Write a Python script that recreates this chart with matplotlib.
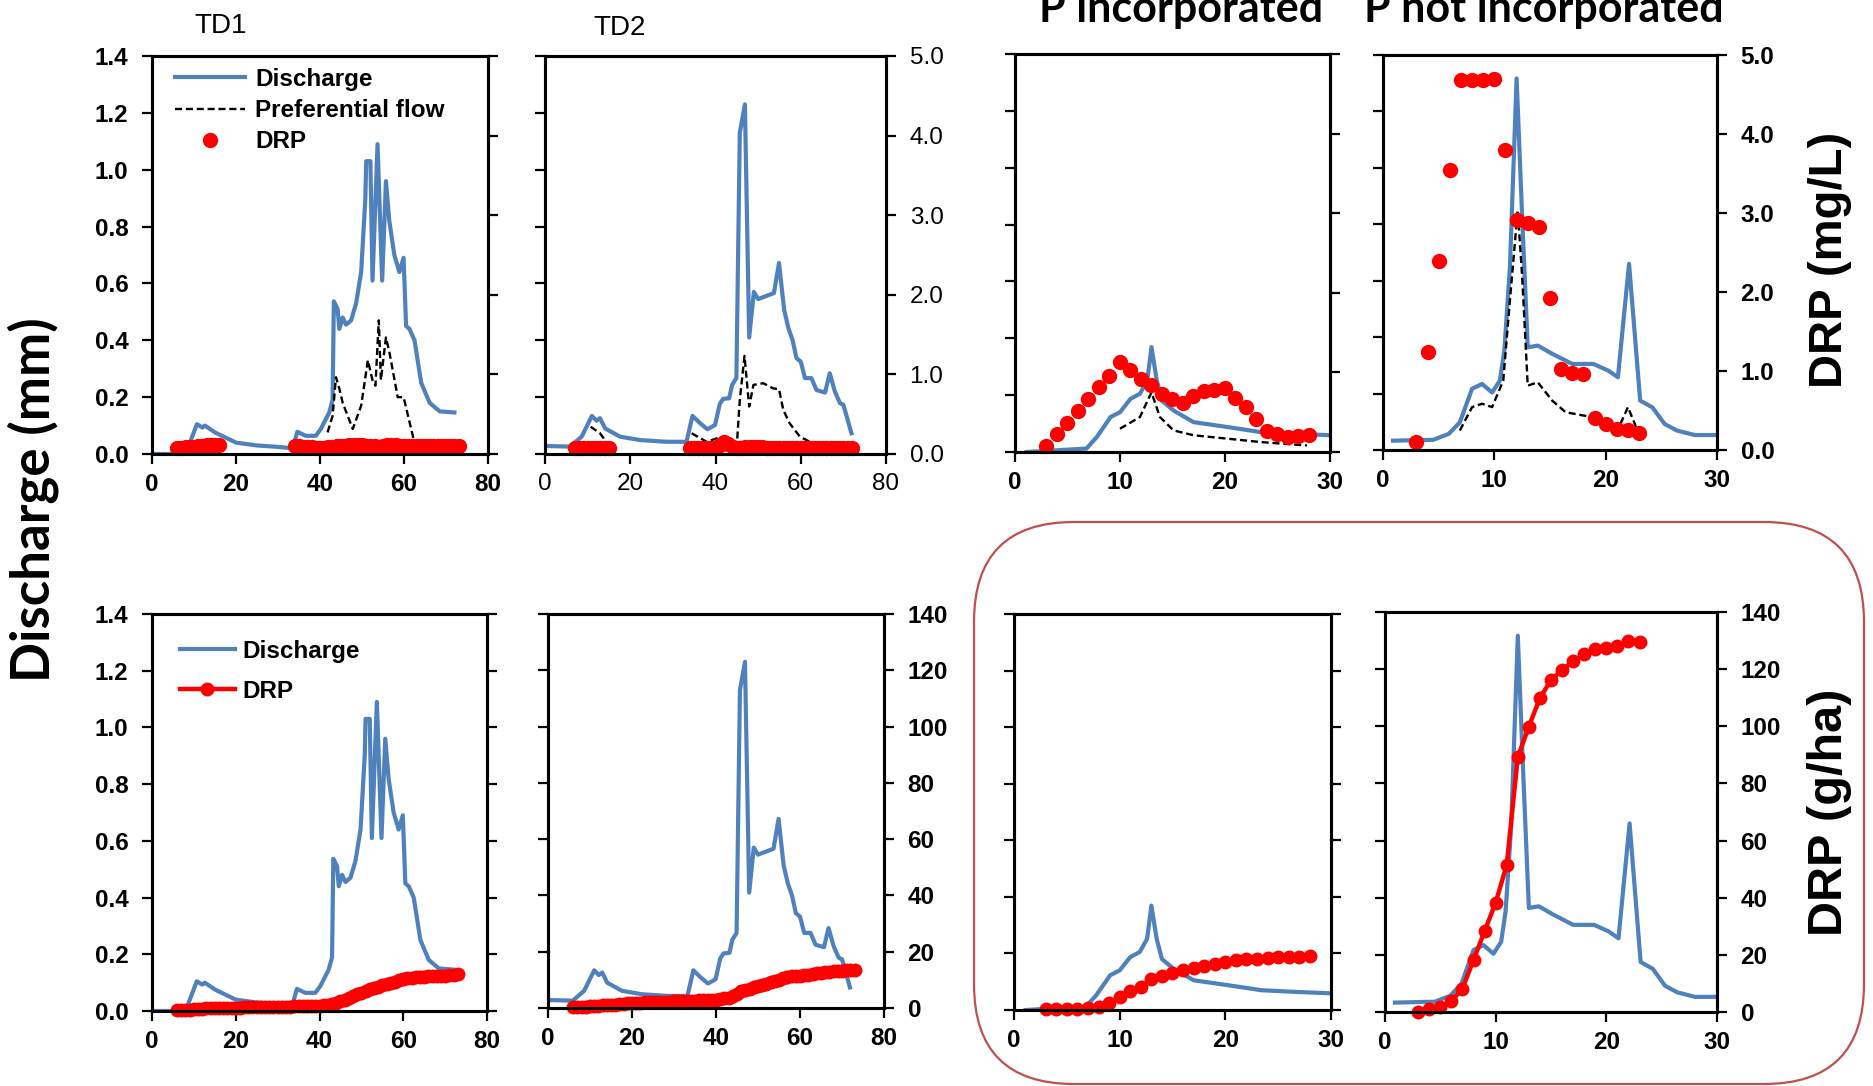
import matplotlib
matplotlib.use("Agg")
import matplotlib.pyplot as plt
import numpy as np
from matplotlib.lines import Line2D
from matplotlib.patches import FancyBboxPatch

plt.rcParams['font.family'] = ['Liberation Sans', 'DejaVu Sans']

BLUE = '#4F81BD'
RED = '#FF0000'
BOX = '#C0504D'

# ---- TD1 (days 0-80) ----
td1_q_day = [0, 8, 10.7, 12, 12.6, 15, 20, 25, 30, 33.5, 34.6, 36.6, 39, 40.2, 42.2, 43, 43.3,
             44.2, 44.6, 45.4, 46.2, 47.4, 48.6, 49.8, 50.8, 51, 52, 52.5, 53.7, 54.8, 55.7,
             56.5, 57.7, 58.9, 59.9, 60.5, 61.3, 62.5, 64.1, 66.1, 68.5, 72]
td1_q = [0, 0, 0.105, 0.093, 0.10, 0.076, 0.04, 0.03, 0.025, 0.02, 0.078, 0.064, 0.064, 0.088,
         0.146, 0.19, 0.537, 0.51, 0.44, 0.48, 0.455, 0.47, 0.53, 0.64, 0.90, 1.03, 1.03, 0.61,
         1.09, 0.61, 0.96, 0.82, 0.70, 0.64, 0.69, 0.45, 0.44, 0.40, 0.25, 0.18, 0.15, 0.146]
td1_pf_day = [41.8, 43.0, 43.8, 44.6, 45.4, 47.8, 49.8, 51.4, 52.5, 53.2, 54.0, 54.5, 55.7,
              56.5, 58.5, 59.9, 62.1, 62.9]
td1_pf = [0.076, 0.134, 0.27, 0.23, 0.18, 0.088, 0.17, 0.33, 0.26, 0.24, 0.47, 0.26, 0.41,
          0.36, 0.20, 0.20, 0.064, 0.0]
td1_conc_day = list(range(6, 17)) + list(range(34, 74))
td1_conc = [0.08, 0.08, 0.09, 0.09, 0.09, 0.10, 0.10, 0.11, 0.11, 0.11, 0.11,
            0.10, 0.10, 0.09, 0.09, 0.09, 0.08, 0.08, 0.08, 0.09, 0.09, 0.10, 0.10, 0.10,
            0.11, 0.11, 0.11, 0.11, 0.10, 0.10, 0.10, 0.09, 0.10, 0.11, 0.11, 0.11, 0.10,
            0.10, 0.10, 0.10, 0.10, 0.10, 0.10, 0.10, 0.10, 0.10, 0.10, 0.10, 0.10, 0.10, 0.10]
td1_load_day = list(range(6, 74))
td1_load = [0.2, 0.3, 0.4, 0.5, 0.6, 0.7, 0.8, 0.9, 1.0, 1.0,
            1.1, 1.1, 1.1, 1.2, 1.2, 1.2, 1.3, 1.3, 1.3, 1.4,
            1.4, 1.4, 1.5, 1.5, 1.5, 1.5, 1.5, 1.5, 1.6, 1.6,
            1.7, 1.7, 1.8, 1.8, 1.9, 2.0, 2.2, 2.5, 2.9, 3.4,
            4.0, 4.6, 5.3, 5.9, 6.4, 7.0, 7.6, 8.1, 8.6, 9.0,
            9.4, 9.9, 10.3, 10.8, 11.2, 11.5, 11.7, 11.9, 12.0, 12.1,
            12.2, 12.3, 12.3, 12.4, 12.5, 12.6, 12.8, 12.9]

# ---- TD2 (days 0-80) ----
td2_q_day = [0.8, 5.9, 8.6, 11.0, 12.1, 12.9, 14.1, 17.6, 22.3, 28.5, 33.2, 34.6, 36.4, 38.1,
             39.9, 41.0, 41.8, 43.2, 43.9, 44.9, 45.7, 46.9, 47.9, 49.0, 50.0, 53.7, 54.9,
             56.1, 57.1, 58.1, 59.0, 60.0, 61.0, 62.5, 63.7, 65.7, 66.8, 68.0, 69.2, 70.0, 71.9]
td2_q = [0.028, 0.026, 0.061, 0.134, 0.117, 0.126, 0.09, 0.061, 0.049, 0.043, 0.043, 0.134,
         0.108, 0.087, 0.102, 0.176, 0.194, 0.196, 0.243, 0.267, 1.13, 1.23, 0.41, 0.57,
         0.545, 0.566, 0.672, 0.507, 0.443, 0.40, 0.337, 0.325, 0.267, 0.267, 0.225, 0.216,
         0.284, 0.22, 0.179, 0.173, 0.073]
td2_pf_day = [10.7, 12.9, 15.2, 25.0, 34.4, 37.9, 40.3, 42.0, 44.9, 45.7, 46.8, 47.9, 48.9,
              51.2, 53.5, 54.9, 55.9, 57.4, 59.8, 62.1, 64.5, 66.0]
td2_pf = [0.096, 0.073, 0.026, np.nan, 0.073, 0.043, 0.055, 0.03, 0.008, 0.19, 0.345, 0.167,
          0.243, 0.249, 0.231, 0.228, 0.155, 0.108, 0.061, 0.043, 0.026, 0.014]
td2_conc_day = list(range(7, 16)) + list(range(34, 73))
td2_conc = [0.07, 0.07, 0.07, 0.07, 0.07, 0.07, 0.07, 0.07, 0.07,
            0.07, 0.07, 0.07, 0.07, 0.07, 0.07, 0.07, 0.11, 0.15, 0.12, 0.09,
            0.08, 0.08, 0.09, 0.09, 0.09, 0.09, 0.09, 0.08, 0.08, 0.08, 0.08, 0.08,
            0.08, 0.08, 0.07, 0.07, 0.07, 0.07, 0.07, 0.07, 0.07, 0.07, 0.07, 0.07,
            0.07, 0.07, 0.07, 0.07]
td2_load_day = list(range(6, 74))
td2_load = [0.2, 0.3, 0.4, 0.5, 0.6, 0.7, 0.8, 0.9, 1.0, 1.1,
            1.2, 1.3, 1.4, 1.6, 1.8, 1.9, 1.9, 2.0, 2.0, 2.1,
            2.1, 2.2, 2.2, 2.3, 2.4, 2.4, 2.5, 2.5, 2.6, 2.6,
            2.7, 2.7, 2.8, 2.9, 3.0, 3.2, 3.4, 3.7, 4.1, 4.9,
            5.9, 6.4, 6.9, 7.3, 7.7, 8.2, 8.7, 9.2, 9.7, 10.1,
            10.5, 10.9, 11.3, 11.4, 11.5, 11.7, 11.8, 12.1, 12.3, 12.6,
            12.8, 12.9, 13.0, 13.2, 13.3, 13.4, 13.5, 13.6]

# ---- P incorporated (days 0-30) ----
pinc_q_day = [1.1, 6.8, 7.8, 9.1, 10.0, 11.0, 11.9, 12.6, 13.0, 13.5, 14.0, 15.1, 17.0, 20.2,
              23.4, 26.6, 30.0]
pinc_q = [0, 0.012, 0.053, 0.123, 0.14, 0.187, 0.205, 0.252, 0.369, 0.252, 0.18, 0.146,
          0.105, 0.088, 0.07, 0.064, 0.059]
pinc_pf_day = [10.0, 11.9, 13.0, 13.8, 15.1, 17.0, 20.2, 23.4, 27.8]
pinc_pf = [0.082, 0.123, 0.21, 0.123, 0.076, 0.059, 0.047, 0.035, 0.023]
pinc_day = list(range(3, 29))
pinc_conc = [0.08, 0.23, 0.36, 0.52, 0.67, 0.82, 0.96, 1.13, 1.03, 0.92, 0.84, 0.73, 0.67,
             0.61, 0.70, 0.77, 0.78, 0.81, 0.68, 0.56, 0.42, 0.27, 0.22, 0.19, 0.20, 0.21]
pinc_load = [0.3, 0.3, 0.3, 0.3, 0.6, 1.0, 2.6, 4.5, 6.6, 8.3, 10.8, 12.1, 13.0, 14.0, 14.9,
             15.7, 16.3, 17.0, 17.6, 17.9, 18.1, 18.5, 18.8, 18.9, 18.9, 19.1]

# ---- P not incorporated (days 0-30) ----
pnot_q_day = [0.9, 4.5, 5.9, 6.9, 8.0, 8.9, 9.8, 10.5, 10.9, 11.4, 12.0, 12.5, 13.0, 13.9,
              15.2, 16.4, 17.0, 18.9, 20.2, 21.1, 22.1, 23.1, 24.2, 25.3, 26.4, 28.0, 30.0]
pnot_q = [0.033, 0.036, 0.057, 0.098, 0.217, 0.234, 0.204, 0.246, 0.353, 0.648, 1.317,
          0.826, 0.364, 0.37, 0.341, 0.317, 0.305, 0.305, 0.282, 0.258, 0.66, 0.175, 0.151,
          0.092, 0.069, 0.053, 0.053]
pnot_pf_day = [6.9, 8.0, 8.9, 9.8, 10.8, 11.4, 12.1, 12.5, 13.0, 13.9, 15.2, 16.4, 18.3, 20.2,
               21.3, 22.0, 22.8]
pnot_pf = [0.069, 0.152, 0.164, 0.152, 0.246, 0.53, 0.85, 0.614, 0.228, 0.24, 0.175, 0.134,
           0.12, 0.09, 0.09, 0.152, 0.075]
pnot_day = list(range(3, 24))
pnot_conc = [0.10, 1.24, 2.39, 3.54, 4.68, 4.68, 4.68, 4.70, 3.80, 2.91, 2.87, 2.82, 1.92,
             1.03, 0.98, 0.96, 0.40, 0.33, 0.27, 0.25, 0.21]
pnot_load = [0.0, 0.9, 1.9, 3.8, 8.2, 18.2, 28.3, 38.3, 51.5, 89.2, 99.9, 109.9, 116.2,
             119.7, 122.7, 125.2, 126.9, 127.5, 128.1, 130.0, 129.4]

W, H = 1874, 1086
fig = plt.figure(figsize=(W / 100, H / 100), dpi=100)


def rect(x0, x1, top, bot):
    return [x0 / W, 1 - bot / H, (x1 - x0) / W, (bot - top) / H]


def panel(r, xmax, xstep, q_day, q, drp_day, drp, top_row, pf_day=None, pf=None,
          left_lab=False, right_lab=False, weight='bold'):
    ax = fig.add_axes(r)
    ax.plot(q_day, q, color=BLUE, lw=3.0, zorder=2)
    if pf_day is not None:
        ax.plot(pf_day, pf, color='black', lw=1.7, ls=(0, (3, 1.6)), zorder=3)
    ax.set_xlim(0, xmax)
    ax.set_ylim(0, 1.4)
    xt = np.arange(0, xmax + 1, xstep)
    ax.set_xticks(xt, [f"{v:d}" for v in xt], fontweight=weight)
    yt = np.round(np.arange(0, 1.41, 0.2), 1)
    ax.set_yticks(yt, [f"{v:.1f}" for v in yt], fontweight='bold')
    ax.tick_params(axis='x', direction='out', length=7, width=1.6, labelsize=17.5, pad=7,
                   top=False)
    ax.tick_params(axis='y', direction='out', length=7, width=1.6, labelsize=17.5, pad=10,
                   labelleft=left_lab)

    ax2 = ax.twinx()
    if top_row:
        ax2.plot(drp_day, drp, ls='none', marker='o', ms=10, color=RED, clip_on=False)
        ax2.set_ylim(0, 5)
        rt = np.arange(0, 6, 1)
        ax2.set_yticks(rt, [f"{v:.1f}" for v in rt], fontweight=weight)
    else:
        ax2.plot(drp_day, drp, ls='-', lw=3.2, marker='o', ms=9, color=RED, clip_on=False)
        ax2.set_ylim(0, 140)
        rt = np.arange(0, 141, 20)
        ax2.set_yticks(rt, [f"{v:d}" for v in rt], fontweight='bold')
    ax2.tick_params(axis='y', direction='out', length=7, width=1.6, labelsize=17.5, pad=10,
                    labelright=right_lab)
    for a in (ax, ax2):
        for s in a.spines.values():
            s.set_linewidth(2.2)
    return ax, ax2


# top row: concentrations
a1, _ = panel(rect(152, 488, 56, 454), 80, 20, td1_q_day, td1_q, td1_conc_day, td1_conc, True,
              td1_pf_day, td1_pf, left_lab=True)
a2, _ = panel(rect(545, 886, 56, 454), 80, 20, td2_q_day, td2_q, td2_conc_day, td2_conc, True,
              td2_pf_day, td2_pf, right_lab=True, weight='normal')
panel(rect(1015, 1330, 54, 452), 30, 10, pinc_q_day, pinc_q, pinc_day, pinc_conc, True,
      pinc_pf_day, pinc_pf)
panel(rect(1383, 1717, 55, 450), 30, 10, pnot_q_day, pnot_q, pnot_day, pnot_conc, True,
      pnot_pf_day, pnot_pf, right_lab=True)

# bottom row: cumulative loads
a5, _ = panel(rect(152, 487, 614, 1011), 80, 20, td1_q_day, td1_q, td1_load_day, td1_load,
              False, left_lab=True)
panel(rect(548, 884, 614, 1008), 80, 20, td2_q_day, td2_q, td2_load_day, td2_load, False,
      right_lab=True)
panel(rect(1014, 1331, 614, 1010), 30, 10, pinc_q_day, pinc_q, pinc_day, pinc_load, False)
panel(rect(1385, 1717, 612, 1012), 30, 10, pnot_q_day, pnot_q, pnot_day, pnot_load, False,
      right_lab=True)

# legends
h1 = [Line2D([], [], color=BLUE, lw=3.0),
      Line2D([], [], color='black', lw=1.7, ls=(0, (3, 1.6))),
      Line2D([], [], ls='none', marker='o', ms=10, color=RED)]
a1.legend(h1, ['Discharge', 'Preferential flow', 'DRP'], loc='upper left',
          bbox_to_anchor=(23 / 336, 1 - 12 / 398), frameon=False, borderpad=0,
          borderaxespad=0, handlelength=2.9, handletextpad=0.4, labelspacing=0.33,
          prop=dict(weight='bold', size=17.5))
h5 = [Line2D([], [], color=BLUE, lw=3.0),
      Line2D([], [], color=RED, lw=3.2, marker='o', ms=9)]
a5.legend(h5, ['Discharge', 'DRP'], loc='upper left',
          bbox_to_anchor=(28 / 335, 1 - 26 / 397), frameon=False, borderpad=0,
          borderaxespad=0, handlelength=2.25, handletextpad=0.3, labelspacing=0.68,
          prop=dict(weight='bold', size=17.5))

# titles and axis labels
fig.text(221 / W, 1 - 26 / H, 'TD1', fontsize=20, ha='center', va='center')
fig.text(620 / W, 1 - 28 / H, 'TD2', fontsize=20, ha='center', va='center')
fig.text(1181 / W, 1 - 22 / H, 'P incorporated', fontsize=31, fontweight='bold',
         family=['Lato', 'DejaVu Sans'], ha='center', va='baseline')
fig.text(1544 / W, 1 - 22 / H, 'P not incorporated', fontsize=31, fontweight='bold',
         family=['Lato', 'DejaVu Sans'], ha='center', va='baseline')
fig.text(33 / W, 1 - 500 / H, 'Discharge (mm)', fontsize=38, fontweight='bold',
         family=['Lato', 'DejaVu Sans'], rotation=90, ha='center', va='center')
fig.text(1830 / W, 1 - 260 / H, 'DRP (mg/L)', fontsize=34, fontweight='bold',
         rotation=90, ha='center', va='center')
fig.text(1830 / W, 1 - 812 / H, 'DRP (g/ha)', fontsize=35, fontweight='bold',
         rotation=90, ha='center', va='center')

# rounded box around the load panels of the plot experiment
box = FancyBboxPatch((9.74, 0.02), 8.90, 5.62, boxstyle='round,pad=0,rounding_size=1.0',
                     transform=fig.dpi_scale_trans, fill=False, ec=BOX, lw=1.6)
fig.add_artist(box)

fig.savefig('out.png', dpi=100)
